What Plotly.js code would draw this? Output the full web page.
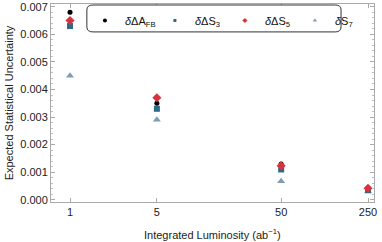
<!DOCTYPE html>
<html>
<head>
<meta charset="utf-8">
<script src="https://cdn.plot.ly/plotly-3.0.1.min.js"></script>
<style>html,body{margin:0;padding:0;background:#fff;}#chart{width:382px;height:242px;}</style>
</head>
<body>
<div id="chart"></div>
<script>
const luminosity = [1, 5, 50, 250];
const xTickLabels = ["1", "5", "50", "250"];
const dAFB = [0.0068, 0.0035, 0.0013, 0.00043];
const dS3  = [0.0063, 0.0033, 0.0011, 0.00035];
const dS5  = [0.0065, 0.0037, 0.00123, 0.00042];
const dS7  = [0.0045, 0.0029, 0.00067, 0.00030];
const seriesNames = ["<i>δ</i>ΔA<sub>FB</sub>", "<i>δ</i>ΔS<sub>3</sub>", "<i>δ</i>ΔS<sub>5</sub>", "<i>δ</i>S<sub>7</sub>"];

const font = {family: "Liberation Sans, Arial, sans-serif", size: 11, color: "#222"};
const series = [
  {y: dAFB, name: seriesNames[0], symbol: "circle", size: 5, legSize: 4, color: "#000000"},
  {y: dS3, name: seriesNames[1], symbol: "square", size: 6, legSize: 3, color: "#2e6a86"},
  {y: dS5, name: seriesNames[2], symbol: "diamond", size: 7, legSize: 4, color: "#d7333f"},
  {y: dS7, name: seriesNames[3], symbol: "triangle-up", size: 7, legSize: 4, color: "#7d9db5"}
];
// small-marker copies carry the legend (drawn first, hidden under the visible markers)
const legendTraces = series.map((s, i) => ({type: "scatter", mode: "markers", x: luminosity, y: s.y,
  name: s.name, legendrank: i + 1, showlegend: true, cliponaxis: false,
  marker: {symbol: s.symbol, size: s.legSize, color: s.color}}));
const drawOrder = [3, 0, 1, 2];
const mainTraces = drawOrder.map(i => ({type: "scatter", mode: "markers", x: luminosity, y: series[i].y,
  name: series[i].name, showlegend: false, cliponaxis: false,
  marker: {symbol: series[i].symbol, size: series[i].size, color: series[i].color}}));

const layout = {
  width: 382, height: 242,
  margin: {l: 51, r: 8, t: 4, b: 40},
  paper_bgcolor: "#fff", plot_bgcolor: "#fff",
  font: font,
  showlegend: true,
  legend: {orientation: "h", x: 0.105, y: 0.99, xanchor: "left", yanchor: "top",
    bgcolor: "rgba(0,0,0,0)", borderwidth: 0, font: {family: font.family, size: 11, color: "#111"},
    entrywidth: 25, entrywidthmode: "pixels", traceorder: "normal"},
  xaxis: {type: "log", range: [-0.153, 2.446], tickvals: luminosity, ticktext: xTickLabels,
    showgrid: false, zeroline: false, showline: true, linecolor: "#aaaaaa", linewidth: 1,
    mirror: "allticks", ticks: "inside", ticklen: 4, tickcolor: "#aaaaaa",
    tickfont: font},
  yaxis: {range: [-0.00008, 0.0071], tickvals: [0,0.001,0.002,0.003,0.004,0.005,0.006,0.007],
    tickformat: ".3f", showgrid: false, zeroline: false, showline: true, linecolor: "#aaaaaa", linewidth: 1,
    mirror: "allticks", ticks: "inside", ticklen: 4, tickcolor: "#aaaaaa",
    minor: {dtick: 0.0002, ticks: "inside", ticklen: 2, tickcolor: "#c0c0c0", showgrid: false},
    tickfont: font,
    title: {text: "Expected Statistical Uncertainty", font: font, standoff: 4}},
  annotations: [{text: "Integrated Luminosity (ab<sup>−1</sup>)", xref: "paper", yref: "paper",
    x: 0.5, y: -0.162, xanchor: "center", yanchor: "middle", showarrow: false, font: font}],
  shapes: [{type: "path", xref: "paper", yref: "paper",
    path: "M 0.13,0.995 L 0.88,0.995 Q 0.898,0.995 0.898,0.97 L 0.898,0.885 Q 0.898,0.859 0.88,0.859 L 0.13,0.859 Q 0.111,0.859 0.111,0.885 L 0.111,0.97 Q 0.111,0.995 0.13,0.995 Z",
    line: {color: "#333", width: 1}, fillcolor: "rgba(255,255,255,1)", layer: "above"}]
};

Plotly.newPlot("chart", legendTraces.concat(mainTraces), layout, {displayModeBar: false, staticPlot: true});
</script>
</body>
</html>
